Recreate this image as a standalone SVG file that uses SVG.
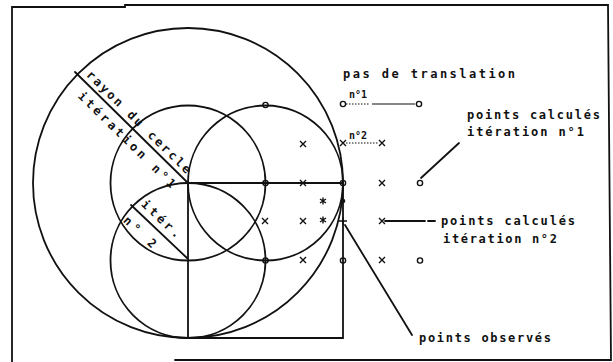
<svg xmlns="http://www.w3.org/2000/svg" width="613" height="362" viewBox="0 0 613 362">
<defs>
<style>
.ln{fill:none;stroke:#111;stroke-width:1.8;stroke-linecap:round}
.th{fill:none;stroke:#111;stroke-width:1.2}
.dot{fill:none;stroke:#111;stroke-width:1.2;stroke-dasharray:1.5 1.5}
.mk{fill:none;stroke:#111;stroke-width:1.4}
.t{font-family:"DejaVu Sans Mono","Liberation Mono",monospace;font-size:12px;fill:#111;font-weight:bold}
.s{font-family:"DejaVu Sans Mono","Liberation Mono",monospace;font-size:10px;fill:#111;font-weight:bold}
</style>
<g id="o"><circle r="2.6" class="mk"/></g>
<g id="x"><path d="M-3,-3L3,3M-3,3L3,-3" class="mk"/></g>
<g id="st"><path d="M0,-3.5V3.5M-3,-2L3,2M-3,2L3,-2" class="mk"/></g>
</defs>
<rect width="613" height="362" fill="#fff"/>
<g id="frame" class="ln">
<path d="M12,362V7H125V5H608L611,360H175"/>
</g>
<g id="circles" class="ln">
<circle cx="188" cy="183" r="155"/>
<circle cx="188" cy="183" r="77.5"/>
<circle cx="265.5" cy="183" r="77.5"/>
<circle cx="188" cy="260.5" r="77.5"/>
</g>
<g id="square" class="ln">
<path d="M188,183H343V338H188Z"/>
</g>
<g id="connectors">
<path class="ln" d="M75,72L188,183"/>
<path class="ln" d="M131,205L187,258"/>
<path class="ln" d="M421,178L459,143"/>
<path class="ln" d="M385,221H425M428,221H435"/>
<path class="ln" d="M345,225L412,335"/>
<path class="dot" d="M346,104H370"/>
<path class="th" d="M372,104H415"/>
<path class="dot" d="M346,143H379"/>
</g>
<g id="iter1-points">
<use href="#o" x="265.5" y="105"/>
<use href="#o" x="343" y="104"/>
<use href="#o" x="419" y="104"/>
<use href="#o" x="265.5" y="183"/>
<use href="#o" x="343" y="183"/>
<use href="#o" x="420" y="183"/>
<use href="#o" x="265.5" y="260.5"/>
<use href="#o" x="343" y="260.5"/>
<use href="#o" x="420" y="260.5"/>
</g>
<g id="iter2-points">
<use href="#x" x="303" y="144"/>
<use href="#x" x="343" y="143"/>
<use href="#x" x="382" y="143"/>
<use href="#x" x="303" y="183"/>
<use href="#x" x="382" y="183"/>
<use href="#x" x="265" y="221"/>
<use href="#x" x="303" y="221"/>
<use href="#x" x="382" y="221"/>
<use href="#x" x="303" y="260"/>
<use href="#x" x="382" y="260"/>
</g>
<g id="stars">
<use href="#st" x="323" y="201"/>
<use href="#st" x="323" y="220"/>
</g>
<g id="observed">
<circle cx="343" cy="201" r="2.3" fill="#111"/>
<path class="mk" d="M339,221H347M343,217V225"/>
</g>
<g id="label-rayon" transform="translate(75,72) rotate(44.5)">
<text class="t" x="10" y="-5" textLength="141" lengthAdjust="spacing">rayon du cercle</text>
<text class="t" x="19" y="16" textLength="131" lengthAdjust="spacing">itération n°1</text>
</g>
<g id="label-iter2" transform="translate(131,205) rotate(43.4)">
<text class="t" x="7" y="-6.5" textLength="49" lengthAdjust="spacing">itér.</text>
<text class="t" x="5" y="17.5" textLength="40" lengthAdjust="spacing">n° 2</text>
</g>
<g id="label-pas">
<text class="t" x="343" y="78" textLength="172" lengthAdjust="spacing">pas de translation</text>
<text class="s" x="349" y="98">n°1</text>
<text class="s" x="349" y="139">n°2</text>
</g>
<g id="label-calc1">
<text class="t" x="467" y="118.5" textLength="133" lengthAdjust="spacing">points calculés</text>
<text class="t" x="467" y="136" textLength="117" lengthAdjust="spacing">itération n°1</text>
</g>
<g id="label-calc2">
<text class="t" x="441" y="225" textLength="134" lengthAdjust="spacing">points calculés</text>
<text class="t" x="443" y="243" textLength="114" lengthAdjust="spacing">itération n°2</text>
</g>
<g id="label-obs">
<text class="t" x="419" y="342" textLength="132" lengthAdjust="spacing">points observés</text>
</g>
</svg>
